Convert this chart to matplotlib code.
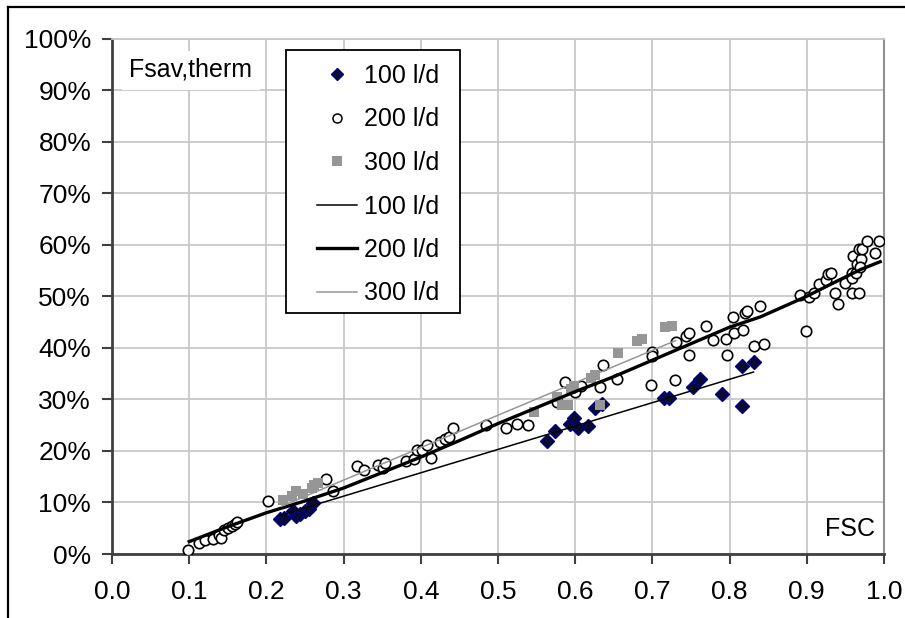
import matplotlib
matplotlib.use("Agg")
import matplotlib.pyplot as plt
from matplotlib.lines import Line2D
from matplotlib.patches import Rectangle
from matplotlib.ticker import FuncFormatter

plt.rcParams['font.family'] = ['Liberation Sans', 'DejaVu Sans']

# ---------------- data ----------------
d100_x = [0.218, 0.223, 0.235, 0.238, 0.244, 0.250, 0.255, 0.261,
          0.564, 0.574, 0.593, 0.598, 0.603, 0.616, 0.626, 0.635,
          0.715, 0.722, 0.753, 0.762, 0.790, 0.816, 0.816, 0.831]
d100_y = [6.8, 7.0, 8.3, 7.3, 7.8, 8.4, 8.8, 9.8,
          22.0, 23.9, 25.2, 26.3, 24.4, 24.8, 28.3, 29.1,
          30.3, 30.3, 32.3, 33.9, 31.0, 36.4, 28.8, 37.3]

d200_x = [0.098, 0.113, 0.120, 0.131, 0.139, 0.141, 0.145, 0.150, 0.155, 0.159, 0.162,
          0.202, 0.277, 0.286, 0.318, 0.326, 0.344, 0.351, 0.354, 0.381, 0.391,
          0.395, 0.401, 0.408, 0.413, 0.425, 0.431, 0.437, 0.442, 0.485, 0.511,
          0.524, 0.539, 0.576, 0.587, 0.600, 0.608, 0.632, 0.636, 0.654, 0.698,
          0.700, 0.700, 0.729, 0.731, 0.744, 0.748, 0.748, 0.769, 0.778, 0.795,
          0.797, 0.804, 0.806, 0.817, 0.820, 0.823, 0.832, 0.840, 0.845, 0.891,
          0.899, 0.903, 0.909, 0.916, 0.925, 0.927, 0.931, 0.937, 0.941, 0.950,
          0.958, 0.959, 0.958, 0.968, 0.964, 0.960, 0.965, 0.970, 0.969, 0.967,
          0.972, 0.978, 0.988, 0.993]
d200_y = [0.8, 2.2, 2.7, 2.9, 3.6, 3.2, 4.6, 5.1, 5.5, 5.9, 6.3,
          10.3, 14.5, 12.2, 17.1, 16.3, 17.3, 16.6, 17.6, 18.0, 18.4,
          20.2, 20.2, 21.1, 18.6, 21.8, 22.3, 22.6, 24.5, 25.0, 24.4,
          25.3, 25.0, 29.5, 33.4, 31.5, 32.5, 32.4, 36.7, 34.0, 32.8,
          39.2, 38.4, 33.8, 41.2, 42.2, 42.8, 38.6, 44.3, 41.5, 41.8,
          38.6, 46.0, 42.9, 43.4, 46.7, 47.2, 40.4, 48.1, 40.7, 50.2,
          43.3, 49.8, 50.7, 52.4, 53.2, 54.3, 54.6, 50.7, 48.5, 52.6,
          54.6, 53.5, 50.7, 50.7, 54.6, 57.8, 56.3, 57.2, 55.7, 59.1,
          59.1, 60.8, 58.4, 60.8]

d300_x = [0.221, 0.233, 0.238, 0.247, 0.259, 0.262, 0.267,
          0.546, 0.576, 0.583, 0.591, 0.595, 0.599, 0.621, 0.626, 0.632,
          0.656, 0.680, 0.686, 0.716, 0.725]
d300_y = [10.5, 11.2, 12.2, 11.6, 12.9, 13.4, 13.7,
          27.6, 30.5, 29.0, 28.9, 32.1, 32.5, 34.1, 34.7, 28.9,
          38.9, 41.4, 41.8, 44.0, 44.3]

# trend lines
t100_x = [0.218, 0.831]
t100_y = [7.5, 35.3]
t200_x = [0.10, 0.15, 0.20, 0.25, 0.30, 0.35, 0.40, 0.45, 0.50, 0.55, 0.60,
          0.65, 0.70, 0.75, 0.80, 0.84, 0.87, 0.90, 0.94, 0.97, 0.995]
t200_y = [2.4, 5.3, 8.0, 10.3, 12.8, 15.8, 18.8, 22.0, 25.3, 28.4, 31.5,
          34.4, 37.6, 40.8, 44.0, 46.0, 48.0, 50.0, 53.0, 55.2, 56.7]
t300_x = [0.22, 0.73]
t300_y = [9.3, 41.4]

labels = ['100 l/d', '200 l/d', '300 l/d']
x_ticks = [0.0, 0.1, 0.2, 0.3, 0.4, 0.5, 0.6, 0.7, 0.8, 0.9, 1.0]
y_ticks = [0, 10, 20, 30, 40, 50, 60, 70, 80, 90, 100]

# ---------------- figure ----------------
W, H = 905, 618
fig = plt.figure(figsize=(W / 100, H / 100), dpi=100)
ax = fig.add_axes([112 / W, 1 - 554 / H, (884 - 112) / W, (554 - 38.5) / H])

FS = 18
FST = 19

ax.set_xlim(0, 1.0)
ax.set_ylim(0, 100)
ax.set_xticks(x_ticks)
ax.set_yticks(y_ticks)
ax.xaxis.set_major_formatter(FuncFormatter(lambda v, p: f"{v:.1f}"))
ax.yaxis.set_major_formatter(FuncFormatter(lambda v, p: f"{v:.0f}%"))
ax.grid(True, color='#c8c8c8', lw=1.3, zorder=0)
ax.set_axisbelow(True)
ax.tick_params(axis='both', labelsize=FST, direction='out', length=7, width=1.5,
               color='#404040')
ax.tick_params(axis='y', pad=8)
ax.tick_params(axis='x', pad=12)
for s in ['left', 'bottom']:
    ax.spines[s].set_color('#404040')
    ax.spines[s].set_linewidth(2)
ax.spines['top'].set_color('#c8c8c8')
ax.spines['top'].set_linewidth(1.3)
ax.spines['right'].set_color('#909090')
ax.spines['right'].set_linewidth(1.5)

MS = 7.5
# scatter series
h1, = ax.plot(d100_x, d100_y, ls='none', marker='D', ms=MS, mfc='#0a0a30',
              mec='#000090', mew=1.0, zorder=3)
h2, = ax.plot(d200_x, d200_y, ls='none', marker='o', ms=MS, mfc='white',
              mec='black', mew=1.2, zorder=3.1)
h3, = ax.plot(d300_x, d300_y, ls='none', marker='s', ms=MS, mfc='#969696',
              mec='#969696', mew=0, zorder=3.2)
# trend lines
l1, = ax.plot(t100_x, t100_y, color='black', lw=1.1, zorder=4)
l2, = ax.plot(t200_x, t200_y, color='black', lw=2.4, zorder=4)
l3, = ax.plot(t300_x, t300_y, color='#969696', lw=1.1, zorder=4)

# labels in plot
ax.text(129 / W, 1 - 77 / H, 'Fsav,therm', transform=fig.transFigure, fontsize=FS,
        ha='left', va='baseline', zorder=5,
        bbox=dict(boxstyle='square,pad=0.3', fc='white', ec='none'))
ax.text(875 / W, 1 - 536 / H, 'FSC', transform=fig.transFigure, fontsize=FS,
        ha='right', va='baseline', zorder=5)

# legend
leg_handles = [
    Line2D([], [], ls='none', marker='D', ms=6.5, mfc='#0a0a30', mec='#000090', mew=1.0),
    Line2D([], [], ls='none', marker='o', ms=6.5, mfc='white', mec='black', mew=1.1),
    Line2D([], [], ls='none', marker='s', ms=6.5, mfc='#969696', mec='#969696', mew=0),
    Line2D([], [], color='black', lw=1.1),
    Line2D([], [], color='black', lw=2.4),
    Line2D([], [], color='#969696', lw=1.1),
]
leg_labels = labels + labels
fig.patches.append(Rectangle((286 / W, 1 - 313 / H), (460 - 286) / W, (313 - 50) / H,
                             transform=fig.transFigure, fc='white', ec='black',
                             lw=1.3, zorder=6))
leg = fig.legend(leg_handles, leg_labels, loc='upper left',
                 bbox_to_anchor=(317 / W, 1 - 64 / H), frameon=False,
                 fontsize=FS, borderpad=0, borderaxespad=0, handlelength=1.6,
                 handletextpad=0.3, labelspacing=0.78)
leg.set_zorder(7)

# outer frame (top and left edges)
fig.add_artist(Line2D([8 / W, 1], [1 - 7 / H, 1 - 7 / H], transform=fig.transFigure,
                      color='black', lw=1.6))
fig.add_artist(Line2D([8 / W, 8 / W], [0, 1 - 7 / H], transform=fig.transFigure,
                      color='black', lw=1.6))

fig.savefig('out.png', dpi=100, facecolor='white')
